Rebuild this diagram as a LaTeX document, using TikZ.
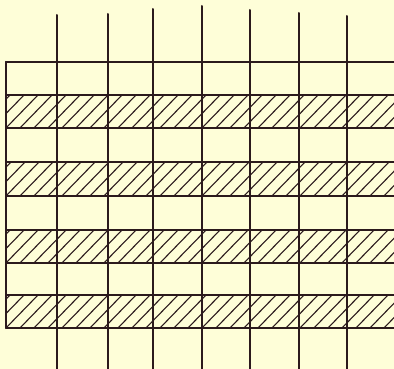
\documentclass[tikz,border=0pt]{standalone}
\definecolor{paper}{HTML}{FEFED8}
\definecolor{ink}{HTML}{2B1A1C}
\begin{document}
\begin{tikzpicture}[x=1pt,y=-1pt,
  gridline/.style={ink, line width=2pt, line cap=round},
  hatchline/.style={ink, line width=1.1pt}]
\fill[paper] (0,0) rectangle (394,369);
\useasboundingbox (0,0) rectangle (394,369);
% hatched bands
\foreach \t/\b in {95/128, 162/196, 230/263, 295/328}{
  \begin{scope}
    \clip (6,\t) rectangle (394,\b);
    \foreach \i in {-4,...,29}
      \draw[hatchline] (\i*14+4,\b+2) -- ++(36,-37);
  \end{scope}
}
% horizontal lines
\foreach \y in {62,95,128,162,196,230,263,295,328}
  \draw[gridline] (6,\y) -- (394,\y);
% left border
\draw[gridline] (6,62) -- (6,328);
% vertical lines
\foreach \x/\top in {57/15, 108/14, 153/9, 202/6, 250/10, 299/13, 347/16}
  \draw[gridline] (\x,\top) -- (\x,370);
\end{tikzpicture}
\end{document}
